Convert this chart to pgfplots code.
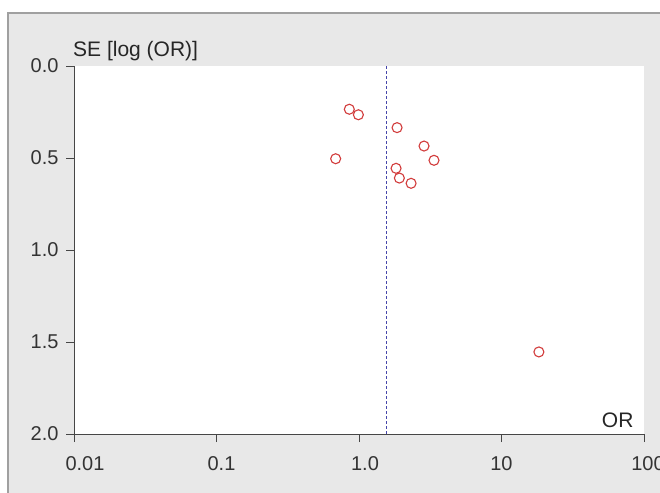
\documentclass[border=0pt]{standalone}
\usepackage{fontspec}
\setmainfont{Liberation Sans}
\usepackage{pgfplots}
\pgfplotsset{compat=1.18}
\definecolor{bgGray}{RGB}{232,232,232}
\definecolor{borderGray}{RGB}{160,160,160}
\definecolor{axGray}{RGB}{70,70,70}
\definecolor{ptRed}{RGB}{210,60,60}
\definecolor{lnBlue}{RGB}{70,70,170}
\begin{document}
\begin{tikzpicture}
\useasboundingbox (0,0) rectangle (660bp,493bp);
\clip (0,0) rectangle (660bp,493bp);
\draw[fill=bgGray, draw=borderGray, line width=1.5bp] (8bp,-10bp) rectangle (680bp,480bp);
\begin{axis}[
  scale only axis, width=570bp, height=368bp,
  at={(359bp,243bp)}, anchor=center,
  xmode=log, xmin=0.01, xmax=100,
  ymin=0, ymax=2, y dir=reverse,
  axis background/.style={fill=white},
  axis line style={draw=none},
  xtick={0.01,0.1,1,10,100},
  xticklabels={\hspace{22bp}0.01,\hspace{10bp}0.1,\hspace{12bp}1.0,10,\hspace{8bp}100},
  xticklabel style={yshift=-11bp},
  ytick={0,0.5,1,1.5,2},
  yticklabel style={xshift=-4bp,/pgf/number format/fixed,/pgf/number format/fixed zerofill,/pgf/number format/precision=1},
  /pgf/number format/assume math mode=true,
  tick label style={font=\fontsize{20bp}{24bp}\selectfont, text=black!80},
  tick align=outside, major tick length=8bp,
  tick style={draw=axGray, line width=0.9bp},
  xtick pos=left, ytick pos=left,
  minor tick length=0pt, log ticks with fixed point,
  xminorticks=false,
  clip=false,
]
\draw[axGray, line width=0.9bp] (axis cs:0.01,0) -- (axis cs:0.01,2) -- (axis cs:100,2);
\addplot[lnBlue, line width=0.9bp, dash pattern=on 3bp off 2bp] coordinates {(1.55,0) (1.55,2)};
\addplot[only marks, mark=o, mark size=5bp, mark options={draw=ptRed, line width=1.1bp}] coordinates {
(0.855,0.235) (0.99,0.265) (1.85,0.335) (2.86,0.435) (0.686,0.504)
(3.36,0.5125) (1.82,0.556) (1.92,0.609) (2.32,0.6375) (18.3,1.554)
};
\node[anchor=base east, font=\fontsize{21bp}{24bp}\selectfont, text=black!85] at ([xshift=-7bp,yshift=7bp]axis cs:100,2) {OR};
\end{axis}
\node[anchor=base west, font=\fontsize{21bp}{24bp}\selectfont, text=black!85, inner sep=0pt] at (73bp,436bp) {SE [log (OR)]};
\end{tikzpicture}
\end{document}
